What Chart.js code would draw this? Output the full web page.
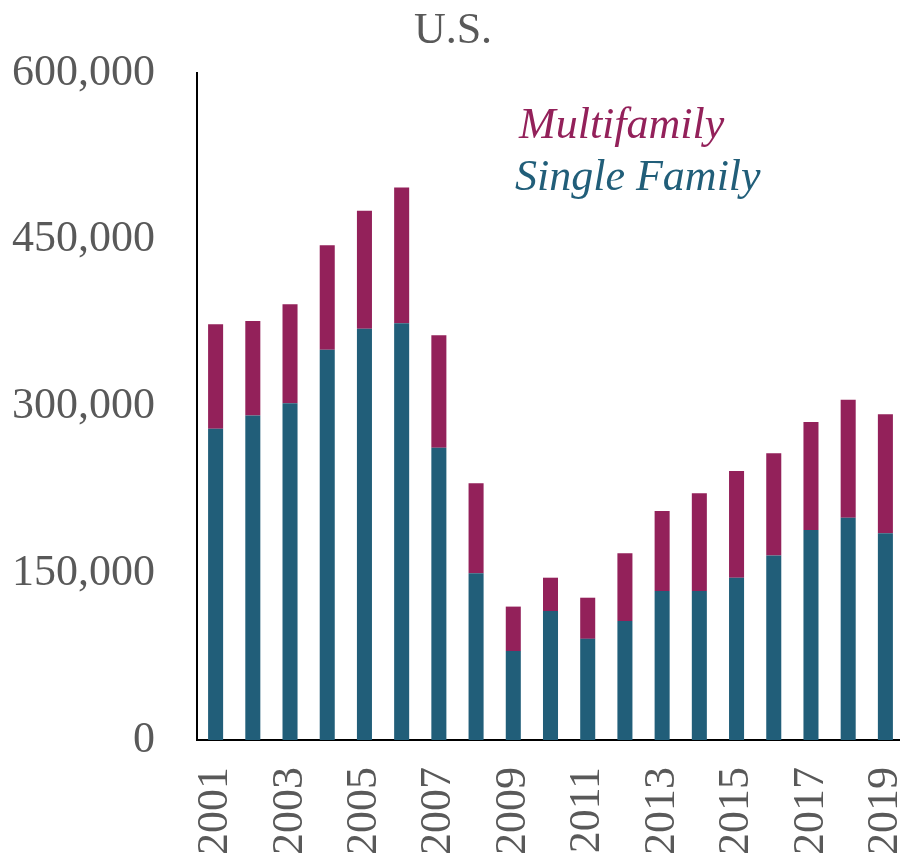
<!DOCTYPE html>
<html>
<head>
<meta charset="utf-8">
<script src="https://cdn.jsdelivr.net/npm/chart.js@4"></script>
<style>
  html, body { margin: 0; padding: 0; background: #fff; overflow: hidden; }
  #wrap { width: 904px; height: 859px; }
</style>
</head>
<body>
<div id="wrap"><canvas id="myChart" width="904" height="859"></canvas></div>
<script>
// --- Data ---
const years = ['2001','2002','2003','2004','2005','2006','2007','2008','2009','2010',
               '2011','2012','2013','2014','2015','2016','2017','2018','2019'];
const singleFamily = [280000, 292000, 303000, 351000, 370000, 375000, 263000, 150000, 80000, 116000,
                      91000, 107000, 134000, 134000, 146000, 166000, 189000, 200000, 186000];
const multifamily = [94000, 85000, 89000, 94000, 106000, 122000, 101000, 81000, 40000, 30000,
                     37000, 61000, 72000, 88000, 96000, 92000, 97000, 106000, 107000];
const yTicks = [0, 150000, 300000, 450000, 600000];

const teal = '#215E79';
const plum = '#93215A';
const grey = '#595959';
const serif = '"Liberation Serif", "Times New Roman", serif';

// --- Title + text legend drawn on the canvas ---
const labelsPlugin = {
  id: 'labelsPlugin',
  afterDraw(chart) {
    const c = chart.ctx;
    c.save();
    c.textBaseline = 'alphabetic';
    c.font = '44px ' + serif;
    c.fillStyle = grey;
    c.textAlign = 'center';
    c.fillText('U.S.', 453, 43);

    c.textAlign = 'left';
    c.font = 'italic 44px ' + serif;
    c.fillStyle = plum;
    c.fillText(chart.data.datasets[1].label, 519, 138);
    c.fillStyle = teal;
    c.fillText(chart.data.datasets[0].label, 515, 190);
    c.restore();
  }
};

const ctx = document.getElementById('myChart').getContext('2d');

const chart = new Chart(ctx, {
  type: 'bar',
  data: {
    labels: years,
    datasets: [
      {
        label: 'Single Family',
        data: singleFamily,
        backgroundColor: teal,
        barPercentage: 0.404,
        categoryPercentage: 1
      },
      {
        label: 'Multifamily',
        data: multifamily,
        backgroundColor: plum,
        barPercentage: 0.404,
        categoryPercentage: 1
      }
    ]
  },
  options: {
    responsive: false,
    animation: false,
    layout: { padding: { top: 73, right: 0, left: 0, bottom: 0 } },
    plugins: {
      legend: { display: false },
      title: { display: false },
      tooltip: { enabled: false }
    },
    scales: {
      x: {
        stacked: true,
        grid: { display: false, drawTicks: false },
        border: { display: true, color: '#000', width: 2 },
        afterFit: (s) => { s.height = 119; s.paddingLeft = 0; s.paddingRight = 0; },
        ticks: {
          autoSkip: false,
          minRotation: 90,
          maxRotation: 90,
          padding: 27,
          color: grey,
          font: { family: serif, size: 44 },
          callback: function(val, i) { return i % 2 === 0 ? years[i] : ''; }
        }
      },
      y: {
        stacked: true,
        min: 0,
        max: 600000,
        grid: { display: false, drawTicks: false },
        border: { display: true, color: '#000', width: 2 },
        afterFit: (s) => { s.width = 197; s.paddingTop = 0; s.paddingBottom = 0; },
        afterBuildTicks: (s) => { s.ticks = yTicks.map(v => ({ value: v })); },
        ticks: {
          padding: 42,
          color: grey,
          font: { family: serif, size: 44 },
          callback: (v) => v.toLocaleString('en-US')
        }
      }
    }
  },
  plugins: [labelsPlugin]
});
</script>
</body>
</html>
